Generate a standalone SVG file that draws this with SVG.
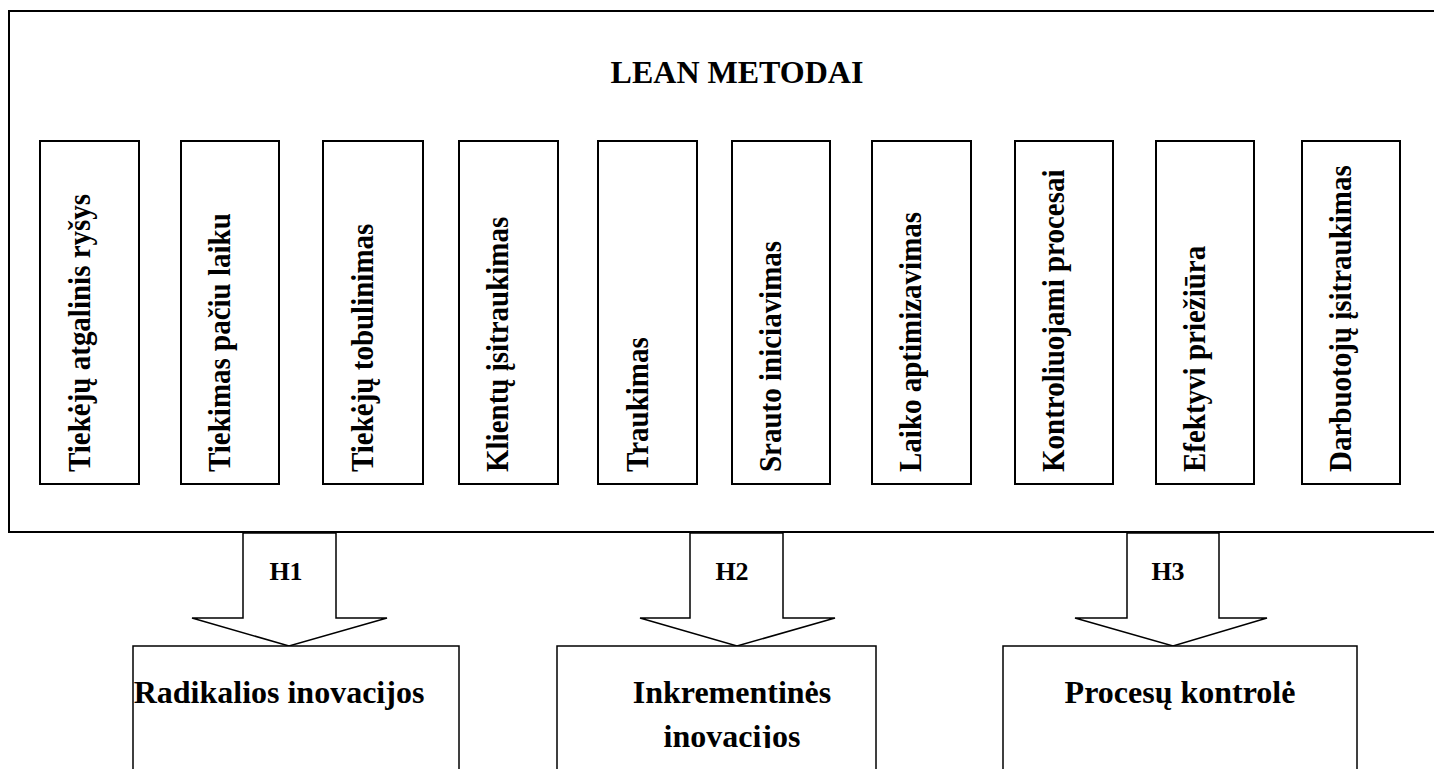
<svg xmlns="http://www.w3.org/2000/svg" width="1434" height="769" viewBox="0 0 1434 769">
  <style>
    .frame { fill: #fff; stroke: #000; stroke-width: 2; }
    .item { fill: #fff; stroke: #000; stroke-width: 2; }
    .arrow { fill: #fff; stroke: #000; stroke-width: 1.5; stroke-linejoin: miter; }
    .result { fill: #fff; stroke: #000; stroke-width: 1.5; }
    text { font-family: "Liberation Serif", "Times New Roman", serif; font-weight: bold; fill: #000; }
    .title { font-size: 32px; text-anchor: middle; }
    .vert { font-size: 29px; }
    .hyp { font-size: 26px; text-anchor: middle; }
    .res { font-size: 32px; text-anchor: middle; }
  </style>
  <defs>
    <clipPath id="clip-inc">
      <rect x="557" y="646" width="319" height="102"/>
    </clipPath>
  </defs>
  <rect width="1434" height="769" fill="#fff"/>

  <!-- Lean methods container -->
  <g id="lean-metodai">
    <rect class="frame" x="9" y="11" width="1440" height="521"/>
    <text class="title" x="737" y="83">LEAN METODAI</text>
  </g>

  <!-- Individual methods (vertical labels, slightly tall glyphs) -->
  <g id="m1"><rect class="item" x="40" y="141" width="99" height="343"/><text class="vert" transform="translate(90,472) rotate(-90) scale(1,1.1)">Tiekėjų atgalinis ryšys</text></g>
  <g id="m2"><rect class="item" x="181" y="141" width="98" height="343"/><text class="vert" transform="translate(230,472) rotate(-90) scale(1,1.1)">Tiekimas pačiu laiku</text></g>
  <g id="m3"><rect class="item" x="323" y="141" width="100" height="343"/><text class="vert" transform="translate(373,472) rotate(-90) scale(1,1.1)">Tiekėjų tobulinimas</text></g>
  <g id="m4"><rect class="item" x="459" y="141" width="99" height="343"/><text class="vert" transform="translate(508,472) rotate(-90) scale(1,1.1)">Klientų įsitraukimas</text></g>
  <g id="m5"><rect class="item" x="598" y="141" width="99" height="343"/><text class="vert" transform="translate(648,472) rotate(-90) scale(1,1.1)">Traukimas</text></g>
  <g id="m6"><rect class="item" x="732" y="141" width="98" height="343"/><text class="vert" transform="translate(781,472) rotate(-90) scale(1,1.1)">Srauto iniciavimas</text></g>
  <g id="m7"><rect class="item" x="872" y="141" width="99" height="343"/><text class="vert" transform="translate(921,472) rotate(-90) scale(1,1.1)">Laiko aptimizavimas</text></g>
  <g id="m8"><rect class="item" x="1015" y="141" width="98" height="343"/><text class="vert" transform="translate(1064,472) rotate(-90) scale(1,1.1)">Kontroliuojami procesai</text></g>
  <g id="m9"><rect class="item" x="1156" y="141" width="98" height="343"/><text class="vert" transform="translate(1205,472) rotate(-90) scale(1,1.1)">Efektyvi priežiūra</text></g>
  <g id="m10"><rect class="item" x="1302" y="141" width="98" height="343"/><text class="vert" transform="translate(1351,472) rotate(-90) scale(1,1.1)">Darbuotojų įsitraukimas</text></g>

  <!-- Hypothesis block arrows -->
  <g id="connectors">
    <g id="h1">
      <polygon class="arrow" points="243,533 336,533 336,618 387,618 289,646 192,618 243,618"/>
      <text class="hyp" x="286" y="580">H1</text>
    </g>
    <g id="h2">
      <polygon class="arrow" points="690,533 783,533 783,618 835,618 737,646 640,618 690,618"/>
      <text class="hyp" x="732" y="580">H2</text>
    </g>
    <g id="h3">
      <polygon class="arrow" points="1127,533 1219,533 1219,618 1267,618 1173,646 1075,618 1127,618"/>
      <text class="hyp" x="1168" y="580">H3</text>
    </g>
  </g>

  <!-- Innovation outcomes -->
  <g id="radikalios">
    <rect class="result" x="133" y="646" width="326" height="140"/>
    <text class="res" x="279" y="703">Radikalios inovacijos</text>
  </g>
  <g id="inkrementines">
    <rect class="result" x="557" y="646" width="319" height="140"/>
    <text class="res" x="732" y="703">Inkrementinės</text>
    <text class="res" x="732" y="747" clip-path="url(#clip-inc)">inovacijos</text>
  </g>
  <g id="procesu-kontrole">
    <rect class="result" x="1003" y="646" width="354" height="140"/>
    <text class="res" x="1180" y="703">Procesų kontrolė</text>
  </g>
</svg>
